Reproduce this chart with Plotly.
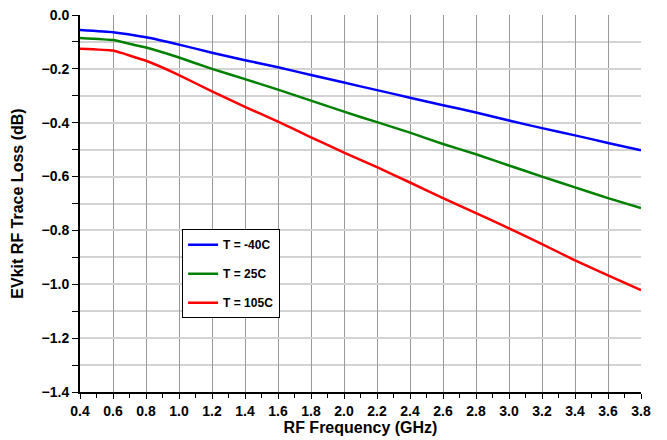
import plotly.graph_objects as go

freq_ghz = [0.4, 0.6, 0.8, 1.0, 1.2, 1.4, 1.6, 1.8, 2.0, 2.2, 2.4, 2.6, 2.8, 3.0, 3.2, 3.4, 3.6, 3.8]
loss_m40 = [-0.056, -0.064, -0.083, -0.110, -0.140, -0.168, -0.194, -0.223, -0.251, -0.279,
            -0.307, -0.335, -0.362, -0.392, -0.420, -0.447, -0.475, -0.502]
loss_25 = [-0.085, -0.093, -0.121, -0.158, -0.200, -0.238, -0.277, -0.318, -0.359, -0.398,
           -0.437, -0.479, -0.517, -0.559, -0.600, -0.640, -0.680, -0.717]
loss_105 = [-0.125, -0.132, -0.170, -0.223, -0.284, -0.341, -0.396, -0.454, -0.511, -0.565,
            -0.622, -0.680, -0.736, -0.792, -0.851, -0.911, -0.967, -1.022]
series_names = ["T = -40C", "T = 25C", "T = 105C"]
series_colors = ["#0000ff", "#008000", "#ff0000"]

fig = go.Figure()
for i, (name, ys, col) in enumerate(zip(series_names, [loss_m40, loss_25, loss_105], series_colors)):
    fig.add_trace(go.Scatter(x=freq_ghz, y=ys, mode="lines", name=name,
                             legendgroup=f"g{i}",
                             line=dict(color=col, width=2.5, shape="spline", smoothing=0.3)))

font_family = "Liberation Sans, Arial, sans-serif"
fig.update_layout(
    width=667, height=440,
    margin=dict(l=80, r=26, t=15, b=48),
    paper_bgcolor="white", plot_bgcolor="white",
    font=dict(family=font_family, color="black"),
    showlegend=True,
    legend=dict(x=0.182, y=0.432, xanchor="left", yanchor="top",
                bgcolor="white", bordercolor="black", borderwidth=1,
                font=dict(size=12, family=font_family, weight="bold"),
                tracegroupgap=10, itemwidth=30),
    xaxis=dict(range=[0.4, 3.8], dtick=0.2, tick0=0.4, tickformat=".1f",
               showgrid=True, gridcolor="#999999", gridwidth=1,
               showline=True, linecolor="black", linewidth=2,
               ticks="outside", ticklen=5, tickcolor="black", tickwidth=1,
               minor=dict(dtick=0.1, ticks="outside", ticklen=4, tickcolor="black", showgrid=False),
               tickfont=dict(size=14, weight="bold"),
               title=dict(text="RF Frequency (GHz)", font=dict(size=16, weight="bold"), standoff=4),
               zeroline=False, automargin=False),
    yaxis=dict(range=[-1.4, 0.0], dtick=0.2, tick0=0, tickformat=".1f",
               showgrid=True, gridcolor="#d3d3d3", gridwidth=1.5,
               showline=True, linecolor="black", linewidth=2,
               ticks="outside", ticklen=6, tickcolor="black", tickwidth=1,
               minor=dict(dtick=0.1, ticks="outside", ticklen=6, tickcolor="black",
                          showgrid=True, gridcolor="#d3d3d3", gridwidth=1.5),
               tickfont=dict(size=14, weight="bold"),
               title=dict(text="EVkit RF Trace Loss (dB)", font=dict(size=16, weight="bold"), standoff=14),
               zeroline=False, automargin=False),
)

fig.write_html("out.html", config={"displayModeBar": False},
               post_script="document.body.style.margin='0';")
